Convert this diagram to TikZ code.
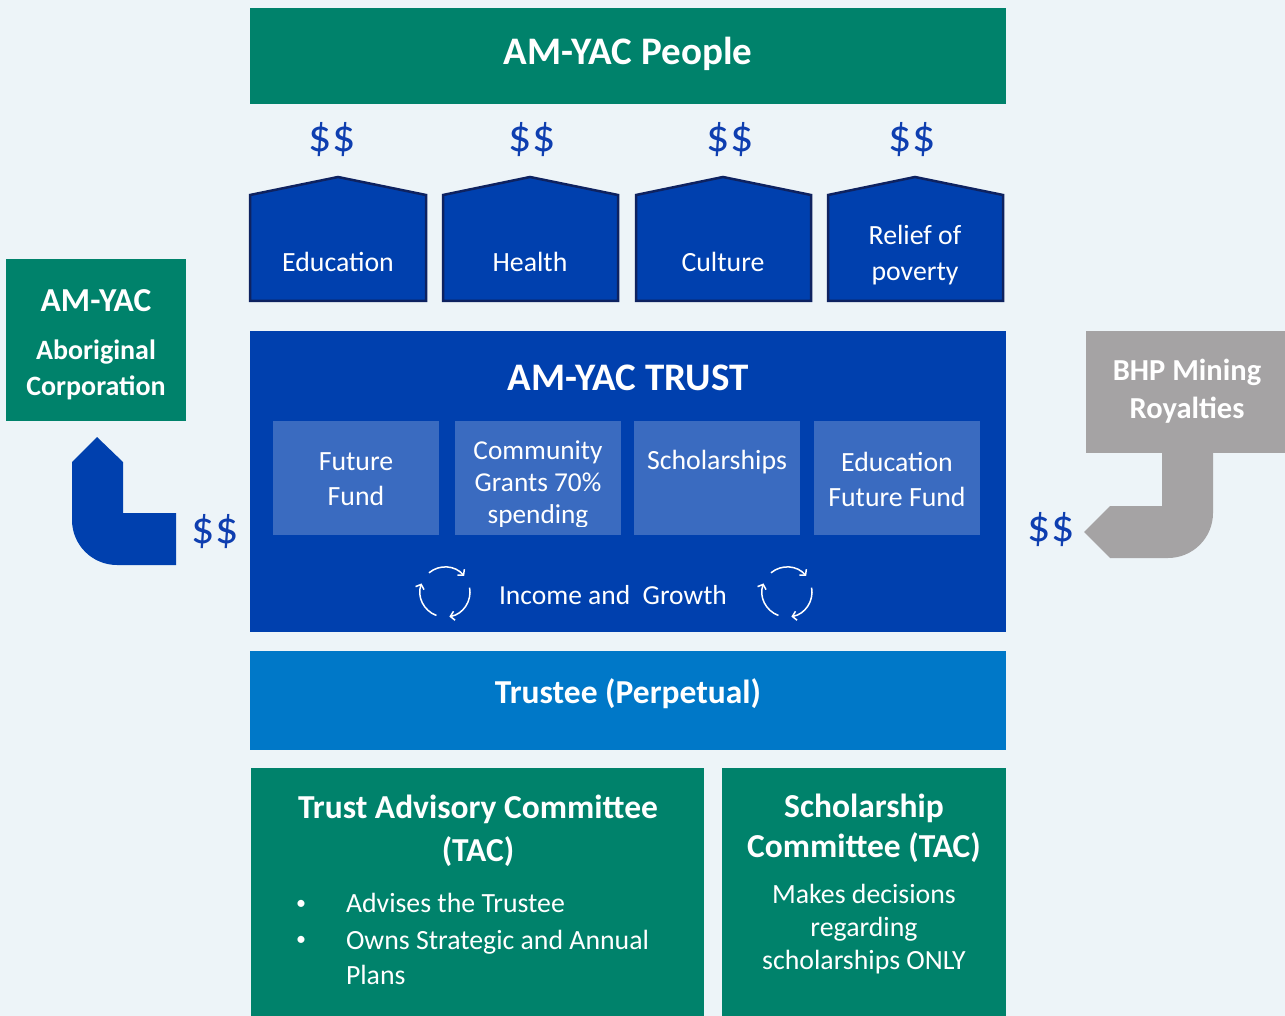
\documentclass[tikz,border=0pt]{standalone}
\usepackage{fontspec}
\setmainfont{Carlito}
\usetikzlibrary{arrows.meta}

\definecolor{bgc}{RGB}{237,244,248}
\definecolor{amgreen}{RGB}{0,130,107}
\definecolor{amblue}{RGB}{0,64,174}
\definecolor{subblue}{RGB}{58,107,192}
\definecolor{trusteeblue}{RGB}{0,120,200}
\definecolor{bhpgray}{RGB}{165,163,164}
\definecolor{navy}{RGB}{14,34,96}
\definecolor{dollarblue}{RGB}{14,62,176}

\newcommand{\fsz}[2]{\fontsize{#1}{#2}\selectfont}

\begin{document}
\begin{tikzpicture}[x=1pt,y=-1pt,
  panel/.style={inner sep=0, outer sep=0, draw=none},
  wtext/.style={text=white, inner sep=0, outer sep=0, align=center},
  bodytext/.style={wtext, font=\fsz{27.8}{34}},
  headtext/.style={wtext, font=\fsz{33.5}{42}\bfseries},
  dollars/.style={text=dollarblue, inner sep=0, font=\fsz{46}{46}},
  house/.style={fill=amblue, draw=navy, line width=2.5, line join=miter},
  spin/.pic={
    \draw[white, line width=1.5, -{Straight Barb[length=4,width=9]}]
      (-130:25) arc[start angle=-130, end angle=-40, radius=25];
    \draw[white, line width=1.5, -{Straight Barb[length=4,width=9]}]
      (-10:25) arc[start angle=-10, end angle=80, radius=25];
    \draw[white, line width=1.5, -{Straight Barb[length=4,width=9]}]
      (110:25) arc[start angle=110, end angle=200, radius=25];
  }
]
% canvas
\fill[bgc] (0,0) rectangle (1285,1016);
\useasboundingbox (0,0) rectangle (1285,1016);

% beneficiaries band
\node[panel, fill=amgreen, minimum width=756, minimum height=96] (people) at (628,56) {};
\node[wtext, font=\fsz{39}{44}\bfseries] (peopletxt) at (628,54) {AM-YAC People};

% purpose houses
\path[house] (250,195) -- (338,177) -- (426,195) -- (426,301) -- (250,301) -- cycle;
\path[house] (443,195) -- (530,177) -- (618,195) -- (618,301) -- (443,301) -- cycle;
\path[house] (636,195) -- (723,177) -- (811,195) -- (811,301) -- (636,301) -- cycle;
\path[house] (828,195) -- (915,177) -- (1003,195) -- (1003,301) -- (828,301) -- cycle;
\node[bodytext] (edu) at (338,262) {Education};
\node[bodytext] (health) at (530,262) {Health};
\node[bodytext] (culture) at (723,262) {Culture};
\node[bodytext, font=\fsz{27.8}{36}] (relief) at (915,255) {Relief of\\poverty};

\node[dollars] (d1) at (332,140) {\$\$};
\node[dollars] (d2) at (532,140) {\$\$};
\node[dollars] (d3) at (730,140) {\$\$};
\node[dollars] (d4) at (912,140) {\$\$};

% the trust
\node[panel, fill=amblue, minimum width=756, minimum height=301] (trust) at (628,481.5) {};
\node[wtext, font=\fsz{39}{44}\bfseries] (trusttxt) at (628,378) {AM-YAC TRUST};

\node[panel, fill=subblue, minimum width=166, minimum height=114] (ff) at (356,478) {};
\node[panel, fill=subblue, minimum width=166, minimum height=114] (cg) at (538,478) {};
\node[panel, fill=subblue, minimum width=166, minimum height=114] (sch) at (717,478) {};
\node[panel, fill=subblue, minimum width=166, minimum height=114] (eff) at (897,478) {};

\node[bodytext, font=\fsz{27.8}{35}] (fftxt) at (356,479) {Future\\Fund};
\begin{scope}
  \clip (455,421) rectangle (621,526);
  \node[bodytext, font=\fsz{27.3}{32}] (cgtxt) at (538,484) {Community\\Grants 70\%\\spending};
\end{scope}
\node[bodytext] (schtxt) at (717,462) {Scholarships};
\node[bodytext, font=\fsz{27.8}{35}] (efftxt) at (897,479) {Education\\Future Fund};

\node[bodytext, font=\fsz{27.5}{30}] (growth) at (613,595) {Income and\ \ Growth};
\pic at (445,592) {spin};
\pic at (787,592) {spin};

% trustee
\node[panel, fill=trusteeblue, minimum width=756, minimum height=99] (trustee) at (628,700.5) {};
\node[headtext] (trusteetxt) at (628,694) {Trustee (Perpetual)};

% committees
\node[panel, fill=amgreen, minimum width=453, minimum height=250] (tac) at (477.5,893) {};
\node[headtext, font=\fsz{33.5}{43}\bfseries] (tactxt) at (478,831) {Trust Advisory Committee\\(TAC)};
\node[wtext, font=\fsz{20}{20}] (b1) at (301,905) {\textbullet};
\node[wtext, font=\fsz{20}{20}] (b2) at (301,941) {\textbullet};
\node[bodytext, anchor=west] (adv) at (346,903) {Advises the Trustee};
\node[bodytext, anchor=west, align=left, font=\fsz{27.8}{35}] (owns) at (346,957) {Owns Strategic and Annual\\Plans};

\node[panel, fill=amgreen, minimum width=284, minimum height=250] (scc) at (864,893) {};
\node[headtext, font=\fsz{33.5}{40}\bfseries] (scctxt) at (864,828) {Scholarship\\Committee (TAC)};
\node[bodytext, font=\fsz{27.8}{33}] (scbody) at (864,929) {Makes decisions\\regarding\\scholarships ONLY};

% Aboriginal corporation
\node[panel, fill=amgreen, minimum width=180, minimum height=162] (corp) at (96,340) {};
\node[wtext, font=\fsz{33.5}{36}\bfseries] (corpa) at (96,301) {AM-YAC};
\node[wtext, font=\fsz{28}{36}\bfseries] (corpb) at (96,370) {Aboriginal\\Corporation};

% distribution arrow up to the corporation
\fill[amblue] (97,437) -- (123,462) -- (123,513) -- (176,513) -- (176,565) -- (117,565)
  arc[start angle=90, end angle=180, radius=45] -- (72,462) -- cycle;
\node[dollars] (dl) at (215,532) {\$\$};

% royalties
\node[panel, fill=bhpgray, minimum width=199, minimum height=122] (bhp) at (1185.5,392) {};
\node[wtext, font=\fsz{30.5}{38}\bfseries] (bhptxt) at (1187,391) {BHP Mining\\Royalties};
\fill[bhpgray] (1162,452) -- (1213,452) -- (1213,513)
  arc[start angle=0, end angle=90, radius=45] -- (1110,558) -- (1084,532) -- (1110,506) -- (1162,506) -- cycle;
\node[dollars] (dr) at (1051,530) {\$\$};
\end{tikzpicture}
\end{document}
